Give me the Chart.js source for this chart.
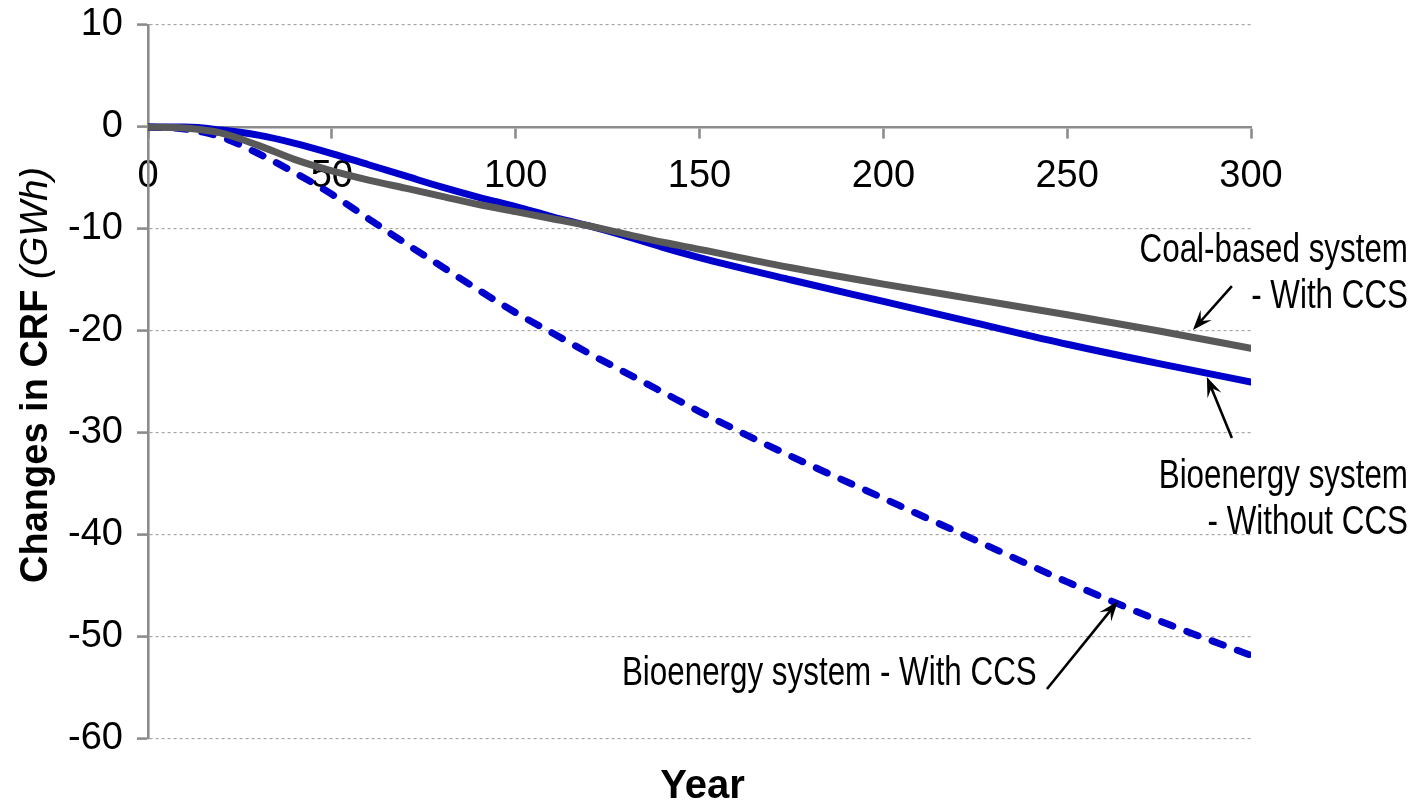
<!DOCTYPE html>
<html>
<head>
<meta charset="utf-8">
<script src="https://cdn.jsdelivr.net/npm/chart.js@4"></script>
<style>
html,body{margin:0;padding:0;background:#fff;}
#wrap{width:1423px;height:811px;position:relative;}
</style>
</head>
<body>
<div id="wrap"><canvas id="c"></canvas></div>
<script>
// ---- data ----
const years = [0,10,20,30,40,50,60,70,80,90,100,110,120,130,140,150,175,200,225,250,275,300];
const coalWithCCS = [0,-0.1,-0.6,-1.8,-3.2,-4.3,-5.2,-6.0,-6.8,-7.6,-8.3,-9.0,-9.7,-10.5,-11.3,-12.0,-13.8,-15.4,-16.9,-18.4,-20.0,-21.7];
const bioWithoutCCS = [0,0,-0.3,-0.8,-1.6,-2.6,-3.7,-4.8,-5.9,-6.9,-7.8,-8.8,-9.7,-10.7,-11.8,-12.8,-15.0,-17.1,-19.2,-21.3,-23.2,-25.0];
const bioWithCCS = [0,-0.2,-1.0,-2.6,-4.5,-6.6,-9.0,-11.4,-13.7,-16.0,-18.2,-20.2,-22.2,-24.1,-26.0,-27.9,-32.3,-36.4,-40.5,-44.6,-48.4,-51.8];
const xTicks = [0,50,100,150,200,250,300];
const yTicks = [10,0,-10,-20,-30,-40,-50,-60];
const seriesNames = ['Coal-based system - With CCS','Bioenergy system - Without CCS','Bioenergy system - With CCS'];
const yTitleMain = 'Changes in CRF ';
const yTitleUnit = '(GWh)';
const xTitle = 'Year';

// annotation texts (data-space anchors)
const annotations = [
  {lines:['Coal-based system','- With CCS'], x:342.7, y:-13.2, align:'right'},
  {lines:['Bioenergy system','- Without CCS'], x:342.7, y:-35.4, align:'right'},
  {lines:['Bioenergy system - With CCS'], x:128.9, y:-54.7, align:'left'}
];
const arrows = [
  {from:[294.8,-15.6], to:[284.2,-19.9]},
  {from:[294.8,-30.5], to:[288.0,-24.5]},
  {from:[244.5,-55.1], to:[263.8,-46.5]}
];

const toPts = arr => years.map((x,i)=>({x:x, y:arr[i]}));

const GRAY = '#595959';
const BLUE = '#0000cc';
const AXIS = '#8c8c8c';
const SANS = '"Liberation Sans", Arial, Helvetica, sans-serif';

function drawArrow(ctx, x1, y1, x2, y2){
  const a = Math.atan2(y2-y1, x2-x1);
  const c = Math.cos(a), s = Math.sin(a);
  ctx.beginPath();
  ctx.moveTo(x1,y1);
  ctx.lineTo(x2-10*c, y2-10*s);
  ctx.stroke();
  const L = 20, W = 7.5;
  ctx.beginPath();
  ctx.moveTo(x2,y2);
  ctx.lineTo(x2-L*c+W*s, y2-L*s-W*c);
  ctx.lineTo(x2-0.6*L*c, y2-0.6*L*s);
  ctx.lineTo(x2-L*c-W*s, y2-L*s+W*c);
  ctx.closePath();
  ctx.fill();
}

const overlay = {
  id:'overlay',
  afterDraw(chart){
    const ctx = chart.ctx;
    const xs = chart.scales.x, ys = chart.scales.y;
    ctx.save();
    // y title
    ctx.fillStyle = '#000';
    ctx.translate(47, 375);
    ctx.rotate(-Math.PI/2);
    const f1 = 'bold 38px ' + SANS, f2 = 'italic 38px ' + SANS;
    ctx.font = f1; const w1 = ctx.measureText(yTitleMain).width;
    ctx.font = f2; const w2 = ctx.measureText(yTitleUnit).width;
    const st = -(w1+w2)/2;
    ctx.textAlign = 'left'; ctx.textBaseline = 'alphabetic';
    ctx.font = f1; ctx.fillText(yTitleMain, st, 0);
    ctx.font = f2; ctx.fillText(yTitleUnit, st + w1, 0);
    ctx.restore();

    // x title
    ctx.save();
    ctx.fillStyle = '#000';
    ctx.font = 'bold 40px ' + SANS;
    ctx.textAlign = 'center'; ctx.textBaseline = 'alphabetic';
    ctx.fillText(xTitle, (chart.chartArea.left + chart.chartArea.right)/2 + 3, 798);
    ctx.restore();

    // annotations
    ctx.save();
    ctx.fillStyle = '#000';
    ctx.font = '41px ' + SANS;
    ctx.textBaseline = 'alphabetic';
    const sx = 0.765;
    annotations.forEach(an => {
      const px = xs.getPixelForValue(an.x);
      let py = ys.getPixelForValue(an.y);
      an.lines.forEach((ln, i) => {
        ctx.save();
        ctx.translate(px, py + i*46);
        ctx.scale(sx, 1);
        ctx.textAlign = an.align;
        ctx.fillText(ln, 0, 0);
        ctx.restore();
      });
    });
    ctx.strokeStyle = '#000'; ctx.fillStyle = '#000'; ctx.lineWidth = 2.6;
    arrows.forEach(ar => {
      drawArrow(ctx, xs.getPixelForValue(ar.from[0]), ys.getPixelForValue(ar.from[1]),
                     xs.getPixelForValue(ar.to[0]), ys.getPixelForValue(ar.to[1]));
    });
    ctx.restore();
  }
};

new Chart(document.getElementById('c'), {
  type:'line',
  data:{
    datasets:[
      {label:seriesNames[0], data:toPts(coalWithCCS), borderColor:GRAY, borderWidth:7, pointRadius:0,
       cubicInterpolationMode:'monotone', borderCapStyle:'round', borderJoinStyle:'round', order:0},
      {label:seriesNames[1], data:toPts(bioWithoutCCS), borderColor:BLUE, borderWidth:7, pointRadius:0,
       cubicInterpolationMode:'monotone', borderCapStyle:'round', borderJoinStyle:'round', order:1},
      {label:seriesNames[2], data:toPts(bioWithCCS), borderColor:BLUE, borderWidth:7, pointRadius:0,
       borderDash:[12,15], cubicInterpolationMode:'monotone', borderCapStyle:'round', borderJoinStyle:'round', order:2}
    ]
  },
  options:{
    responsive:true, maintainAspectRatio:false, animation:false,
    layout:{padding:{top:25, right:172, bottom:72, left:0}},
    plugins:{legend:{display:false}, tooltip:{enabled:false}, title:{display:false}},
    scales:{
      x:{
        type:'linear', position:{y:0}, min:0, max:300,
        afterBuildTicks: s => { s.ticks = xTicks.map(v=>({value:v})); },
        afterFit: s => { s.paddingLeft = 0; s.paddingRight = 0; },
        ticks:{font:{family:SANS, size:38}, color:'#000', padding:17, maxRotation:0, autoSkip:false},
        grid:{drawOnChartArea:false, drawTicks:true, tickLength:10, tickColor:AXIS, tickWidth:2.6},
        border:{display:true, color:AXIS, width:2.6}
      },
      y:{
        type:'linear', position:'left', min:-60, max:10,
        afterBuildTicks: s => { s.ticks = yTicks.map(v=>({value:v})); },
        afterFit: s => { s.width = 148; s.paddingTop = 0; s.paddingBottom = 0; },
        ticks:{font:{family:SANS, size:38}, color:'#000', padding:14},
        grid:{
          color: c => (c.tick && c.tick.value === 0) ? 'rgba(0,0,0,0)' : '#a6a6a6',
          lineWidth:1.2, drawTicks:true, tickLength:11, tickColor:AXIS, tickWidth:2.6, tickBorderDash:[]
        },
        border:{display:true, color:AXIS, width:2.6, dash:[3,3]}
      }
    }
  },
  plugins:[overlay]
});
</script>
</body>
</html>
